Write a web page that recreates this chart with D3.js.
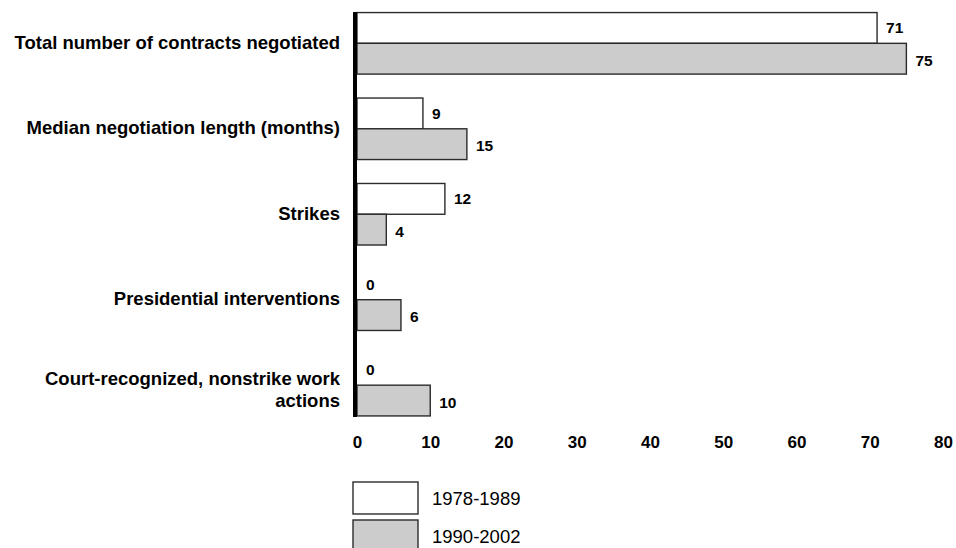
<!DOCTYPE html>
<html>
<head>
<meta charset="utf-8">
<script src="https://cdn.jsdelivr.net/npm/d3@7"></script>
<style>
  body { margin: 0; background: #fff; }
  text { font-family: "Liberation Sans", Arial, Helvetica, sans-serif; fill: #000; }
</style>
</head>
<body>
<svg id="chart" width="956" height="548"></svg>
<script>
// data
var categories = [
  "Total number of contracts negotiated",
  "Median negotiation length (months)",
  "Strikes",
  "Presidential interventions",
  "Court-recognized, nonstrike work actions"
];
var seriesNames = ["1978-1989", "1990-2002"];
var values1978 = [71, 9, 12, 0, 0];
var values1990 = [75, 15, 4, 6, 10];
var xTicks = [0, 10, 20, 30, 40, 50, 60, 70, 80];

var fills = ["#ffffff", "#cccccc"];
var svg = d3.select("#chart");

// set the ranges
var x = d3.scaleLinear().domain([0, 80]).range([357, 943]);
var y = d3.scaleBand()
          .domain(categories)
          .range([0.6, 427.9])
          .paddingInner(0.28)
          .paddingOuter(0.14);
var ySub = d3.scaleBand()
          .domain(seriesNames)
          .range([0, y.bandwidth()]);

var rows = categories.map(function(c, i) {
  return { cat: c, vals: [values1978[i], values1990[i]] };
});

var groups = svg.selectAll(".grp")
    .data(rows)
  .enter().append("g")
    .attr("class", "grp")
    .attr("transform", function(d) { return "translate(0," + y(d.cat) + ")"; });

var bars = groups.selectAll(".bar")
    .data(function(d) { return d.vals.map(function(v, j) { return { v: v, s: seriesNames[j], j: j }; }); })
  .enter();

bars.filter(function(d) { return d.v > 0; }).append("rect")
    .attr("class", "bar")
    .attr("x", x(0))
    .attr("y", function(d) { return ySub(d.s); })
    .attr("width", function(d) { return x(d.v) - x(0); })
    .attr("height", ySub.bandwidth())
    .attr("fill", function(d) { return fills[d.j]; })
    .attr("stroke", "#2b2b2b")
    .attr("stroke-width", 1.4);

bars.append("text")
    .attr("x", function(d) { return x(d.v) + 9; })
    .attr("y", function(d) { return ySub(d.s) + ySub.bandwidth() / 2 + (d.j === 0 ? 5.5 : 7); })
    .style("font-size", "15.5px")
    .style("font-weight", "bold")
    .text(function(d) { return d.v; });

// category labels, wrapped to fit left of the axis
groups.append("text")
    .attr("x", 340)
    .attr("y", y.bandwidth() / 2)
    .attr("text-anchor", "end")
    .style("font-size", "18.5px")
    .style("font-weight", "bold")
    .each(function(d) {
      var t = d3.select(this), words = d.cat.split(" "), lines = [], line = [];
      var tmp = t.append("tspan");
      words.forEach(function(w) {
        line.push(w);
        tmp.text(line.join(" "));
        if (tmp.node().getComputedTextLength() > 335 && line.length > 1) {
          line.pop();
          lines.push(line.join(" "));
          line = [w];
        }
      });
      lines.push(line.join(" "));
      tmp.remove();
      lines.forEach(function(l, k) {
        t.append("tspan")
          .attr("x", 340)
          .attr("dy", k === 0 ? (lines.length > 1 ? 0 : 5.5) : 22)
          .text(l);
      });
    });

// thick vertical axis line
svg.append("line")
    .attr("x1", x(0) - 2).attr("x2", x(0) - 2)
    .attr("y1", 12).attr("y2", 417)
    .attr("stroke", "#000")
    .attr("stroke-width", 4);

// x axis labels
var xAxis = svg.append("g")
    .attr("transform", "translate(0,417)")
    .call(d3.axisBottom(x).tickValues(xTicks).tickSize(0).tickPadding(19));
xAxis.select(".domain").remove();
xAxis.selectAll("text")
    .style("font-size", "17px")
    .style("font-weight", "bold")
    .attr("font-family", null)
    .attr("dy", "0.71em");

// legend
var legend = svg.selectAll(".legend")
    .data(seriesNames)
  .enter().append("g")
    .attr("class", "legend")
    .attr("transform", function(d, i) { return "translate(353," + (482 + i * 38) + ")"; });
legend.append("rect")
    .attr("width", 65).attr("height", 32)
    .attr("fill", function(d, i) { return fills[i]; })
    .attr("stroke", "#2b2b2b")
    .attr("stroke-width", 1.4);
legend.append("text")
    .attr("x", 79).attr("y", 22.5)
    .style("font-size", "18.5px")
    .text(function(d) { return d; });
</script>
</body>
</html>
